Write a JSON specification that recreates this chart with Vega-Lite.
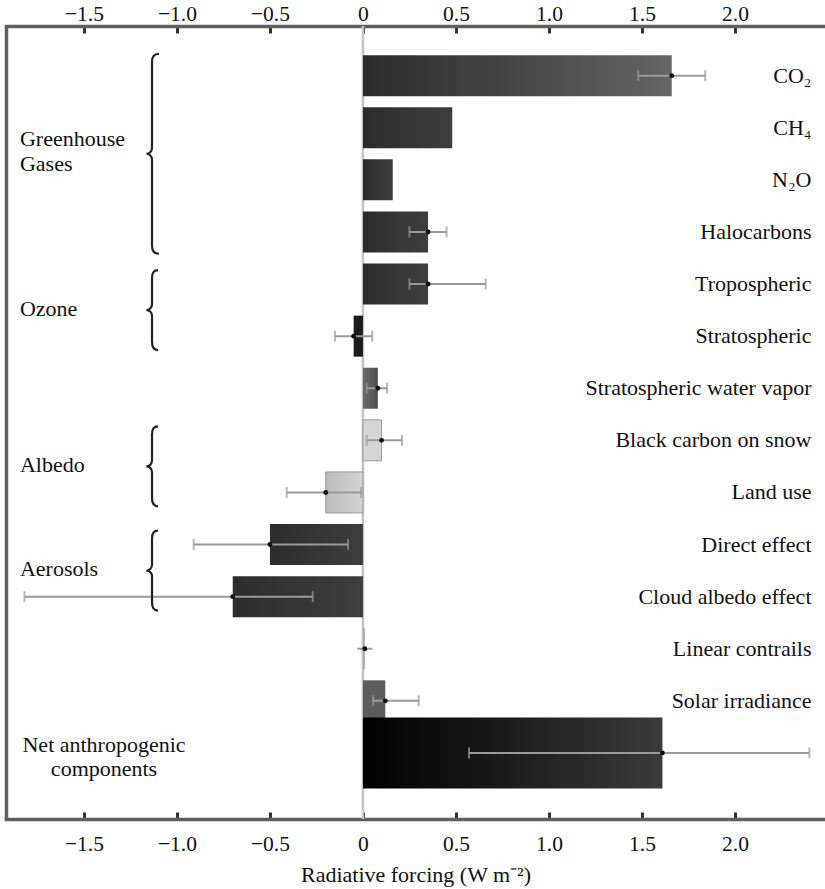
{
  "$schema": "https://vega.github.io/schema/vega-lite/v6.json",
  "width": 819,
  "height": 793,
  "autosize": "none",
  "padding": {"left": 6, "top": 26, "right": 0, "bottom": 70},
  "background": "white",
  "config": {
    "view": {"stroke": null},
    "font": "Liberation Serif",
    "axis": {"labelFont": "Liberation Serif", "titleFont": "Liberation Serif", "labelColor": "#111", "titleColor": "#111", "grid": false},
    "text": {"font": "Liberation Serif"}
  },
  "datasets": {
    "forcing": [
      {"label": "CO₂", "value": 1.66, "lo": 1.48, "hi": 1.84},
      {"label": "CH₄", "value": 0.48, "lo": null, "hi": null},
      {"label": "N₂O", "value": 0.16, "lo": null, "hi": null},
      {"label": "Halocarbons", "value": 0.35, "lo": 0.25, "hi": 0.45},
      {"label": "Tropospheric", "value": 0.35, "lo": 0.25, "hi": 0.66},
      {"label": "Stratospheric", "value": -0.05, "lo": -0.15, "hi": 0.05},
      {"label": "Stratospheric water vapor", "value": 0.08, "lo": 0.02, "hi": 0.13},
      {"label": "Black carbon on snow", "value": 0.1, "lo": 0.02, "hi": 0.21},
      {"label": "Land use", "value": -0.2, "lo": -0.41, "hi": -0.01},
      {"label": "Direct effect", "value": -0.5, "lo": -0.91, "hi": -0.08},
      {"label": "Cloud albedo effect", "value": -0.7, "lo": -1.82, "hi": -0.27},
      {"label": "Linear contrails", "value": 0.01, "lo": -0.03, "hi": 0.05},
      {"label": "Solar irradiance", "value": 0.12, "lo": 0.055, "hi": 0.3},
      {"label": "Net anthropogenic components", "value": 1.61, "lo": 0.57, "hi": 2.4}
    ],
    "groups": [
      {"label": "CH₄", "text": "Greenhouse\nGases", "span": "big"},
      {"label": "Tropospheric", "text": "Ozone", "span": "small"},
      {"label": "Black carbon on snow", "text": "Albedo", "span": "small"},
      {"label": "Direct effect", "text": "Aerosols", "span": "small"}
    ],
    "net": [
      {"label": "Net anthropogenic components", "text": "Net anthropogenic\ncomponents"}
    ]
  },
  "resolve": {"axis": {"x": "independent", "y": "independent"}},
  "layer": [
    {
      "data": {"values": [{"z": 0}]},
      "mark": {"type": "rule", "color": "#c4c4c4", "strokeWidth": 2.5},
      "encoding": {
        "x": {"field": "z", "type": "quantitative", "scale": {"domain": [-1.919, 2.484], "nice": false, "zero": false}, "axis": null}
      }
    },
    {
      "data": {"name": "forcing"},
      "mark": {"type": "bar"},
      "encoding": {
        "y": {
          "field": "label", "type": "nominal",
          "scale": {"domain": ["CO₂", "CH₄", "N₂O", "Halocarbons", "Tropospheric", "Stratospheric", "Stratospheric water vapor", "Black carbon on snow", "Land use", "Direct effect", "Cloud albedo effect", "Linear contrails", "Solar irradiance", "Net anthropogenic components"], "paddingInner": 0.213, "paddingOuter": 0.717, "align": 0.39},
          "axis": {"orient": "right", "title": null, "ticks": false, "domain": false, "labelAlign": "right", "labelBaseline": "middle", "labelPadding": -14, "labelFont": "Liberation Serif", "labelFontSize": 22, "labelLimit": 400, "labelColor": "#111",
                   "labelExpr": "datum.value == 'Net anthropogenic components' ? '' : datum.value"}
        },
        "x": {
          "field": "value", "type": "quantitative",
          "scale": {"domain": [-1.919, 2.484], "nice": false, "zero": false},
          "axis": {"orient": "bottom", "values": [-1.5, -1, -0.5, 0, 0.5, 1, 1.5, 2], "labelExpr": "datum.value == 0 ? '0' : format(datum.value, '.1f')",
                   "tickSize": -7, "tickWidth": 3, "tickColor": "#333", "domain": true, "domainWidth": 3.5, "domainColor": "#5f5f5f", "domainCap": "square",
                   "labelFont": "Liberation Serif", "labelFontSize": 21.5, "labelPadding": 21, "title": "Radiative forcing (W m⁻²)", "titleFont": "Liberation Serif", "titleFontSize": 22, "titleFontWeight": "normal", "titlePadding": 10}
        },
        "x2": {"datum": 0},
        "size": {"condition": {"test": "datum.label == 'Net anthropogenic components'", "value": 71}, "value": 41},
        "fill": {
          "condition": [
            {"test": "datum.label == 'CO₂'", "value": {"gradient": "linear", "x1": 0, "y1": 0, "x2": 1, "y2": 0, "stops": [{"offset": 0, "color": "#2b2b2b"}, {"offset": 1, "color": "#646464"}]}},
            {"test": "datum.label == 'Stratospheric'", "value": "#1c1c1c"},
            {"test": "datum.label == 'Stratospheric water vapor'", "value": {"gradient": "linear", "x1": 0, "y1": 0, "x2": 1, "y2": 0, "stops": [{"offset": 0, "color": "#6a6a6a"}, {"offset": 1, "color": "#4e4e4e"}]}},
            {"test": "datum.label == 'Black carbon on snow'", "value": "#d6d6d6"},
            {"test": "datum.label == 'Land use'", "value": {"gradient": "linear", "x1": 0, "y1": 0, "x2": 1, "y2": 0, "stops": [{"offset": 0, "color": "#bcbcbc"}, {"offset": 1, "color": "#d4d4d4"}]}},
            {"test": "datum.label == 'Linear contrails'", "value": "#a8a8a8"},
            {"test": "datum.label == 'Solar irradiance'", "value": "#5c5c5c"},
            {"test": "datum.label == 'Net anthropogenic components'", "value": {"gradient": "linear", "x1": 0, "y1": 0, "x2": 1, "y2": 0, "stops": [{"offset": 0, "color": "#000000"}, {"offset": 1, "color": "#3a3a3a"}]}}
          ],
          "value": {"gradient": "linear", "x1": 0, "y1": 0, "x2": 1, "y2": 0, "stops": [{"offset": 0, "color": "#2c2c2c"}, {"offset": 1, "color": "#3e3e3e"}]}
        },
        "stroke": {"condition": {"test": "datum.label == 'Black carbon on snow' || datum.label == 'Land use'", "value": "#9a9a9a"}, "value": null},
        "strokeWidth": {"value": 1}
      }
    },
    {
      "data": {"name": "forcing"},
      "transform": [{"filter": "datum.lo != null"}],
      "mark": {"type": "rule", "color": "#9a9a9a", "strokeWidth": 2},
      "encoding": {
        "y": {"field": "label", "type": "nominal",
              "axis": {"orient": "left", "labels": false, "ticks": false, "domain": true, "domainWidth": 3.5, "domainColor": "#5f5f5f", "title": null}},
        "x": {
          "field": "lo", "type": "quantitative",
          "scale": {"domain": [-1.919, 2.484], "nice": false, "zero": false},
          "axis": {"orient": "top", "values": [-1.5, -1, -0.5, 0, 0.5, 1, 1.5, 2], "labelExpr": "datum.value == 0 ? '0' : format(datum.value, '.1f')",
                   "tickSize": -7, "tickWidth": 3, "tickColor": "#333", "domain": true, "domainWidth": 3.5, "domainColor": "#5f5f5f", "domainCap": "square",
                   "labelFont": "Liberation Serif", "labelFontSize": 21.5, "labelPadding": 8, "title": null}
        },
        "x2": {"field": "hi"}
      }
    },
    {
      "data": {"name": "forcing"},
      "transform": [{"filter": "datum.lo != null && datum.label != 'Linear contrails'"}],
      "mark": {"type": "tick", "color": "#9a9a9a", "thickness": 2, "size": 11},
      "encoding": {
        "y": {"field": "label", "type": "nominal", "axis": null},
        "x": {"field": "lo", "type": "quantitative", "scale": {"domain": [-1.919, 2.484], "nice": false, "zero": false}, "axis": null}
      }
    },
    {
      "data": {"name": "forcing"},
      "transform": [{"filter": "datum.lo != null && datum.label != 'Linear contrails'"}],
      "mark": {"type": "tick", "color": "#9a9a9a", "thickness": 2, "size": 11},
      "encoding": {
        "y": {"field": "label", "type": "nominal", "axis": null},
        "x": {"field": "hi", "type": "quantitative", "scale": {"domain": [-1.919, 2.484], "nice": false, "zero": false}, "axis": null}
      }
    },
    {
      "data": {"name": "forcing"},
      "transform": [{"filter": "datum.lo != null"}],
      "mark": {"type": "point", "filled": true, "color": "#111", "size": 24, "opacity": 1},
      "encoding": {
        "y": {"field": "label", "type": "nominal", "axis": null},
        "x": {"field": "value", "type": "quantitative", "scale": {"domain": [-1.919, 2.484], "nice": false, "zero": false}, "axis": null}
      }
    },
    {
      "data": {"name": "groups"},
      "transform": [{"filter": "datum.span == 'small'"}],
      "mark": {"type": "text", "align": "left", "baseline": "middle", "font": "Liberation Serif", "fontSize": 22, "color": "#111"},
      "encoding": {
        "y": {"field": "label", "type": "nominal", "bandPosition": 1.1, "axis": null},
        "x": {"datum": -1.844, "type": "quantitative", "scale": {"domain": [-1.919, 2.484], "nice": false, "zero": false}, "axis": null},
        "text": {"field": "text"}
      }
    },
    {
      "data": {"name": "groups"},
      "transform": [{"filter": "datum.span == 'big'"}],
      "mark": {"type": "text", "align": "left", "baseline": "middle", "font": "Liberation Serif", "fontSize": 22, "lineBreak": "\n", "lineHeight": 25, "color": "#111"},
      "encoding": {
        "y": {"field": "label", "type": "nominal", "bandPosition": 0.78, "axis": null},
        "x": {"datum": -1.844, "type": "quantitative", "scale": {"domain": [-1.919, 2.484], "nice": false, "zero": false}, "axis": null},
        "text": {"field": "text"}
      }
    },
    {
      "data": {"name": "net"},
      "mark": {"type": "text", "align": "center", "baseline": "middle", "font": "Liberation Serif", "fontSize": 22, "lineBreak": "\n", "lineHeight": 24, "color": "#111"},
      "encoding": {
        "y": {"field": "label", "type": "nominal", "bandPosition": 0.3, "axis": null},
        "x": {"datum": -1.392, "type": "quantitative", "scale": {"domain": [-1.919, 2.484], "nice": false, "zero": false}, "axis": null},
        "text": {"field": "text"}
      }
    },
    {
      "data": {"name": "groups"},
      "transform": [{"filter": "datum.span == 'big'"}],
      "mark": {"type": "point", "filled": false, "stroke": "#222", "strokeWidth": 2.2, "opacity": 1, "size": 40000,
               "shape": "M0.07,-1 C0.02,-1 0,-0.97 0,-0.92 L0,-0.06 C0,-0.02 -0.03,0 -0.055,0 C-0.03,0 0,0.02 0,0.06 L0,0.92 C0,0.97 0.02,1 0.07,1"},
      "encoding": {
        "y": {"field": "label", "type": "nominal", "bandPosition": 1.135, "axis": null},
        "x": {"datum": -1.134, "type": "quantitative", "scale": {"domain": [-1.919, 2.484], "nice": false, "zero": false}, "axis": null}
      }
    },
    {
      "data": {"name": "groups"},
      "transform": [{"filter": "datum.span == 'small'"}],
      "mark": {"type": "point", "filled": false, "stroke": "#222", "strokeWidth": 2.2, "opacity": 1, "size": 6400,
               "shape": "M0.15,-1 C0.04,-1 0,-0.93 0,-0.8 L0,-0.15 C0,-0.05 -0.07,0 -0.14,0 C-0.07,0 0,0.05 0,0.15 L0,0.8 C0,0.93 0.04,1 0.15,1"},
      "encoding": {
        "y": {"field": "label", "type": "nominal", "bandPosition": 1.135, "axis": null},
        "x": {"datum": -1.134, "type": "quantitative", "scale": {"domain": [-1.919, 2.484], "nice": false, "zero": false}, "axis": null}
      }
    }
  ]
}
